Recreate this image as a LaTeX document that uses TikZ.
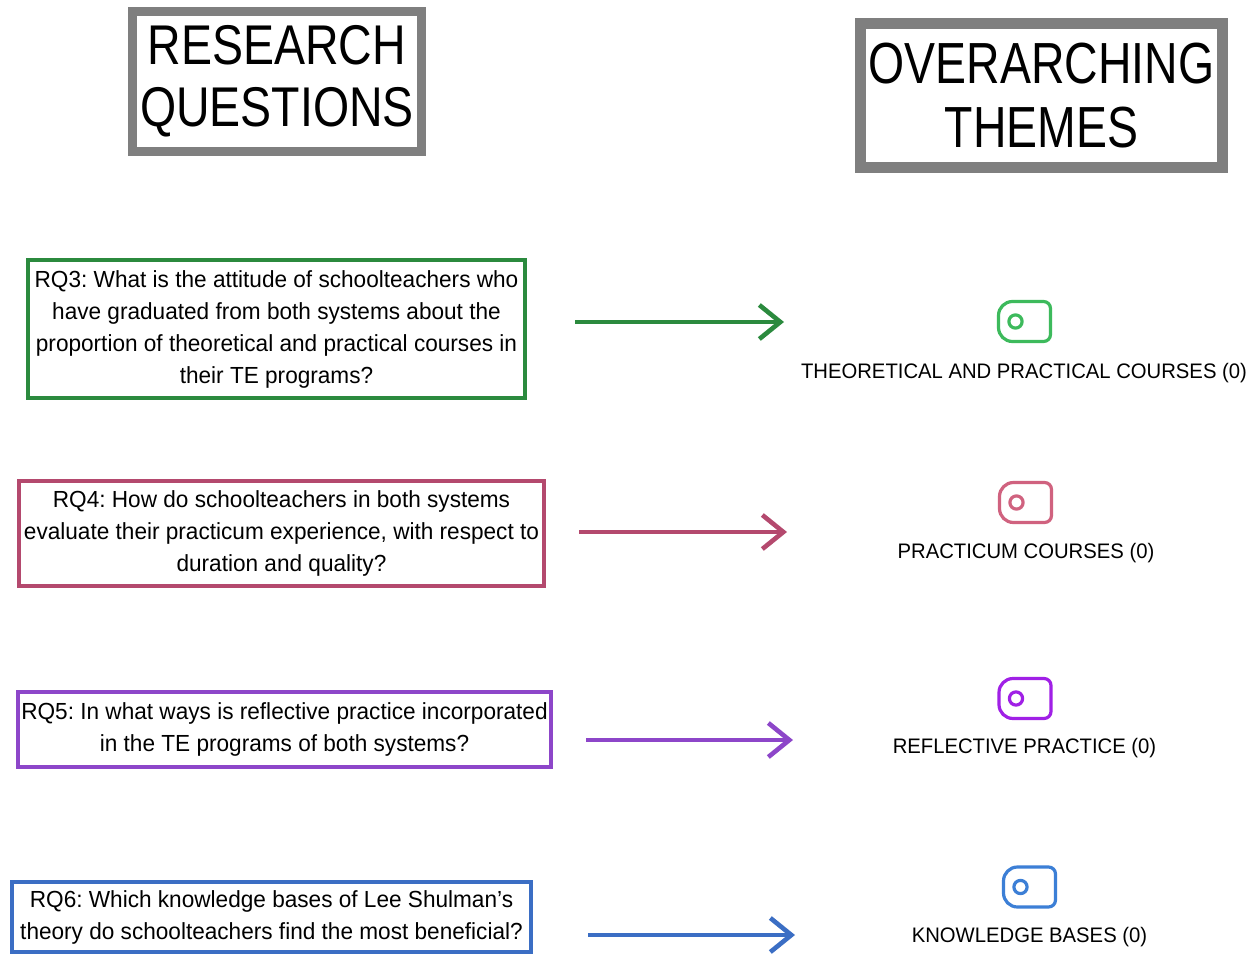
\documentclass[tikz,border=0pt]{standalone}
\usepackage{fontspec}
\setmainfont{Liberation Sans}
\newfontfamily\headfont{Liberation Sans}[FakeStretch=0.83]
\newfontfamily\otfont{Liberation Sans}[FakeStretch=0.80]
\newfontfamily\bodyfont{Liberation Sans}[FakeStretch=0.97]
\newfontfamily\themefont{Liberation Sans}[FakeStretch=0.965]
\usetikzlibrary{arrows.meta}
\definecolor{hgray}{HTML}{7F7F7F}
\definecolor{cgreen}{HTML}{2B8A3E}
\definecolor{igreen}{HTML}{3DBA5C}
\definecolor{ccrim}{HTML}{B4496E}
\definecolor{icrim}{HTML}{D0627F}
\definecolor{cpurp}{HTML}{8D46C9}
\definecolor{ipurp}{HTML}{A020E6}
\definecolor{cblue}{HTML}{3B6EC4}
\definecolor{iblue}{HTML}{3C7FD6}
\tikzset{
  headbox/.style={draw=hgray, fill=white, outer sep=0pt, inner sep=0pt, align=center},
  rqbox/.style={draw=#1, line width=2pt, outer sep=0pt, inner sep=0pt, align=center,
    font=\bodyfont\fontsize{11.65pt}{16pt}\selectfont},
  iconbox/.style={minimum width=26pt, minimum height=20pt, outer sep=0pt, inner sep=0pt},
  themelabel/.style={anchor=base, inner sep=0pt, font=\themefont\fontsize{10.5pt}{12pt}\selectfont},
  arr/.style={draw=#1, line width=2.3pt, -{Straight Barb[length=10.5pt,width=17pt,line width=2.3pt]}},
  iconline/.style={draw=#1, line width=1.6pt, line join=round}
}
\newcommand{\tagicon}[2]{%
  \draw[iconline=#2] ([xshift=7pt]#1.north west) -- ([xshift=-3.5pt]#1.north east)
    arc[start angle=90, end angle=0, radius=3.5pt] -- ([yshift=3.5pt]#1.south east)
    arc[start angle=0, end angle=-90, radius=3.5pt] -- ([xshift=7pt]#1.south west)
    arc[start angle=270, end angle=180, radius=7pt] -- ([yshift=-7pt]#1.north west)
    arc[start angle=180, end angle=90, radius=7pt] -- cycle;
  \draw[iconline=#2] ([xshift=8.5pt]#1.west) circle[radius=3.3pt];
}
\begin{document}
\frenchspacing
\begin{tikzpicture}[x=0.5pt,y=-0.5pt]
\useasboundingbox[fill=white] (0,0) rectangle (1260,954);

% headers
\node[headbox, line width=4.5pt, minimum width=144.5pt, minimum height=70pt,
  font=\headfont\fontsize{28pt}{31pt}\selectfont] (rqh) at (277,81.5) {RESEARCH\\QUESTIONS};
\node[headbox, line width=5.5pt, minimum width=181pt, minimum height=72pt,
  font=\otfont\fontsize{29pt}{32pt}\selectfont] (oth) at (1041.5,95.5) {OVERARCHING\\THEMES};

% research questions
\node[rqbox=cgreen, minimum width=248.5pt, minimum height=69pt] (rq3) at (276.5,329)
  {RQ3: What is the attitude of schoolteachers who\\have graduated from both systems about the\\proportion of theoretical and practical courses in\\their TE programs?};
\node[rqbox=ccrim, minimum width=262.5pt, minimum height=52.5pt] (rq4) at (281.5,533.5)
  {RQ4: How do schoolteachers in both systems\\evaluate their practicum experience, with respect to\\duration and quality?};
\node[rqbox=cpurp, minimum width=266.5pt, minimum height=37.5pt] (rq5) at (284.5,729.5)
  {RQ5: In what ways is reflective practice incorporated\\in the TE programs of both systems?};
\node[rqbox=cblue, minimum width=259.5pt, minimum height=35pt] (rq6) at (271.5,917)
  {RQ6: Which knowledge bases of Lee Shulman’s\\theory do schoolteachers find the most beneficial?};

% theme icons
\node[iconbox] (ic3) at (1024.5,321.5) {};
\node[iconbox] (ic4) at (1025.5,502.5) {};
\node[iconbox] (ic5) at (1025,698.5) {};
\node[iconbox] (ic6) at (1029.5,887) {};
\tagicon{ic3}{igreen}
\tagicon{ic4}{icrim}
\tagicon{ic5}{ipurp}
\tagicon{ic6}{iblue}

% theme labels
\node[themelabel] (t3) at (1024,378.5) {THEORETICAL AND PRACTICAL COURSES (0)};
\node[themelabel] (t4) at (1026,558.5) {PRACTICUM COURSES (0)};
\node[themelabel] (t5) at (1024.5,753.5) {REFLECTIVE PRACTICE (0)};
\node[themelabel] (t6) at (1029.5,942.5) {KNOWLEDGE BASES (0)};

% arrows
\draw[arr=cgreen, shorten <=25pt, shorten >=107.25pt] ([yshift=3.5pt]rq3.east) -- ([yshift=-0.25pt]ic3.west);
\draw[arr=ccrim, shorten <=17.5pt, shorten >=106.25pt] ([yshift=0.75pt]rq4.east) -- ([yshift=-14.75pt]ic4.west);
\draw[arr=cpurp, shorten <=17.5pt, shorten >=103pt] ([yshift=-5.25pt]rq5.east) -- ([yshift=-20.75pt]ic5.west);
\draw[arr=cblue, shorten <=28.5pt, shorten >=104.25pt] ([yshift=-9pt]rq6.east) -- ([yshift=-24pt]ic6.west);
\end{tikzpicture}
\end{document}
